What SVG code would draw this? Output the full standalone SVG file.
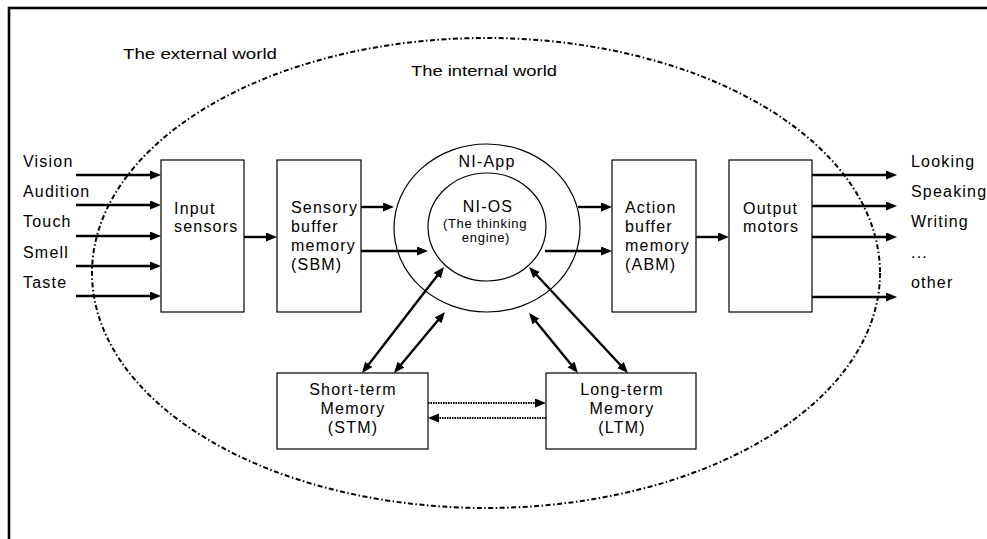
<svg xmlns="http://www.w3.org/2000/svg" width="987" height="539" viewBox="0 0 987 539">
<defs>
<style>
text{font-family:"Liberation Sans",Arial,sans-serif;fill:#000}
.t{font-size:16px;letter-spacing:1.2px}
.s{font-size:13px;letter-spacing:0.7px}
.w{font-size:14px}
.box{fill:#fff;stroke:#000;stroke-width:1.2}
.ring{fill:none;stroke:#000;stroke-width:1.2}
.a{fill:none;stroke:#000;stroke-width:2.4;marker-end:url(#ah)}
.b{fill:none;stroke:#000;stroke-width:2.4;marker-end:url(#ah);marker-start:url(#as)}
.d{fill:none;stroke:#000;stroke-width:2.2;stroke-dasharray:1.6 0.9;marker-end:url(#ah)}
.c{text-anchor:middle}
</style>
<marker id="ah" markerUnits="userSpaceOnUse" markerWidth="12" markerHeight="10" refX="3" refY="4.5" orient="auto" viewBox="0 0 12 10"><path d="M0,0 L11,4.5 L0,9 z" fill="#000"/></marker>
<marker id="as" markerUnits="userSpaceOnUse" markerWidth="12" markerHeight="10" refX="3" refY="4.5" orient="auto-start-reverse" viewBox="0 0 12 10"><path d="M0,0 L11,4.5 L0,9 z" fill="#000"/></marker>
</defs>
<rect width="987" height="539" fill="#fff"/>
<rect x="9" y="8" width="1000" height="560" fill="none" stroke="#000" stroke-width="2.6"/>
<g id="worlds">
<ellipse cx="486" cy="273" rx="394" ry="235" fill="none" stroke="#000" stroke-width="2" stroke-dasharray="5 2.5 1.5 2.5"/>
<text class="w" x="123" y="59" textLength="154" lengthAdjust="spacingAndGlyphs">The external world</text>
<text class="w" x="411" y="76" textLength="146" lengthAdjust="spacingAndGlyphs">The internal world</text>
</g>
<g id="senses">
<text class="t" x="23" y="167">Vision</text>
<text class="t" x="23" y="197">Audition</text>
<text class="t" x="23" y="227">Touch</text>
<text class="t" x="23" y="258">Smell</text>
<text class="t" x="23" y="288">Taste</text>
</g>
<g id="input-sensors">
<rect class="box" x="161" y="160" width="83" height="152"/>
<text class="t" x="174" y="214">Input</text>
<text class="t" x="174" y="232">sensors</text>
</g>
<g id="sbm">
<rect class="box" x="277" y="160" width="84" height="152"/>
<text class="t" x="291" y="213">Sensory</text>
<text class="t" x="291" y="232">buffer</text>
<text class="t" x="291" y="251">memory</text>
<text class="t" x="291" y="270">(SBM)</text>
</g>
<g id="ni-app">
<ellipse class="ring" cx="487" cy="228" rx="93" ry="84"/>
<text class="t c" x="487" y="167">NI-App</text>
</g>
<g id="ni-os">
<ellipse class="ring" cx="487" cy="227" rx="59" ry="54"/>
<text class="t c" x="488" y="212">NI-OS</text>
<text class="s c" x="485" y="228">(The thinking</text>
<text class="s c" x="486" y="242">engine)</text>
</g>
<g id="abm">
<rect class="box" x="612" y="160" width="84" height="152"/>
<text class="t" x="625" y="213">Action</text>
<text class="t" x="625" y="232">buffer</text>
<text class="t" x="625" y="251">memory</text>
<text class="t" x="625" y="270">(ABM)</text>
</g>
<g id="output-motors">
<rect class="box" x="729" y="160" width="83" height="152"/>
<text class="t" x="743" y="214">Output</text>
<text class="t" x="743" y="232">motors</text>
</g>
<g id="actions">
<text class="t" x="911" y="167">Looking</text>
<text class="t" x="911" y="197">Speaking</text>
<text class="t" x="911" y="227">Writing</text>
<text class="t" x="911" y="258">...</text>
<text class="t" x="911" y="288">other</text>
</g>
<g id="stm">
<rect class="box" x="277" y="373" width="151" height="76"/>
<text class="t c" x="353" y="395">Short-term</text>
<text class="t c" x="353" y="414">Memory</text>
<text class="t c" x="353" y="433">(STM)</text>
</g>
<g id="ltm">
<rect class="box" x="546" y="373" width="150" height="76"/>
<text class="t c" x="622" y="395">Long-term</text>
<text class="t c" x="622" y="414">Memory</text>
<text class="t c" x="622" y="433">(LTM)</text>
</g>
<g id="connectors">
<path class="a" d="M76,175H153"/>
<path class="a" d="M76,205H153"/>
<path class="a" d="M76,236H153"/>
<path class="a" d="M76,266H153"/>
<path class="a" d="M76,296H153"/>
<path class="a" d="M244,237H269"/>
<path class="a" d="M361,207H386"/>
<path class="a" d="M361,251H420"/>
<path class="a" d="M578,207H604"/>
<path class="a" d="M545,251H604"/>
<path class="a" d="M696,237H721"/>
<path class="a" d="M812,175H889"/>
<path class="a" d="M812,206H889"/>
<path class="a" d="M812,237H889"/>
<path class="a" d="M812,297H889"/>
<path class="b" d="M439.1,273.3L366.9,366.7"/>
<path class="b" d="M439.9,318.1L399.1,366.9"/>
<path class="b" d="M534.1,319.2L572.9,366.8"/>
<path class="b" d="M534.5,272.8L622.5,367.2"/>
<path class="d" d="M428,403H538"/>
<path class="d" d="M546,418H436"/>
</g>
</svg>
